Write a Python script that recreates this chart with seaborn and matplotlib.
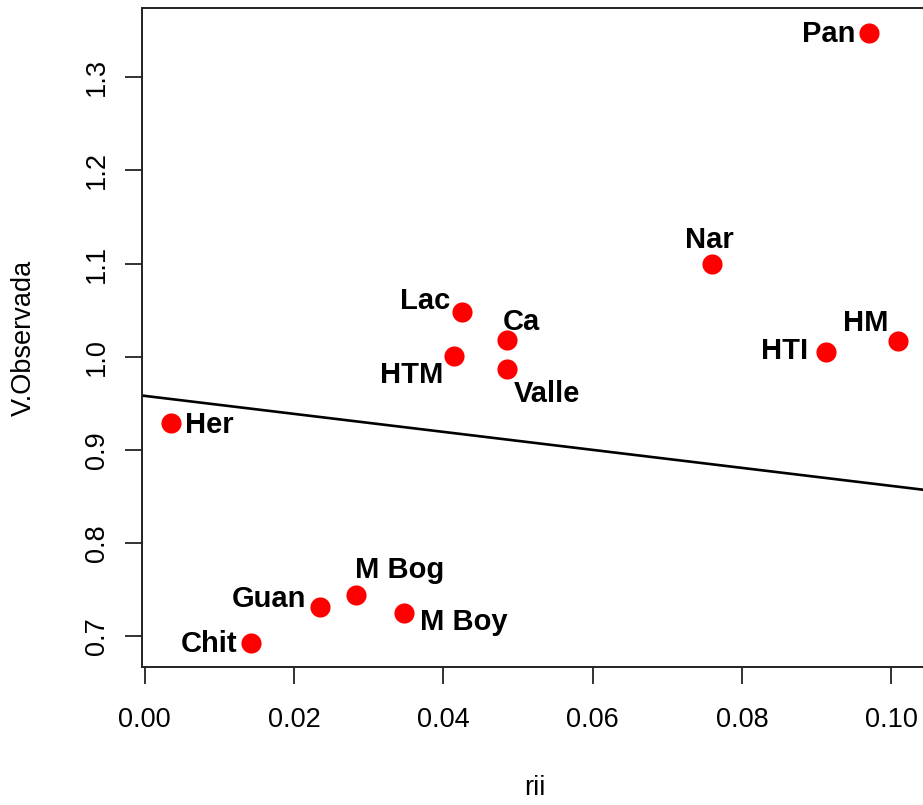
import numpy as np
import pandas as pd
import seaborn as sns
import matplotlib.pyplot as plt
from matplotlib.ticker import FormatStrFormatter

# values
labels = ['Pan', 'Nar', 'HM', 'HTI', 'Lac', 'Ca', 'HTM', 'Valle',
          'Her', 'M Bog', 'Guan', 'M Boy', 'Chit']
rii = [0.0970, 0.0760, 0.1009, 0.0913, 0.0425, 0.0485, 0.0415, 0.0485,
       0.0035, 0.0283, 0.0235, 0.0347, 0.0143]
v_obs = [1.348, 1.100, 1.017, 1.005, 1.048, 1.018, 1.001, 0.987,
         0.929, 0.744, 0.731, 0.725, 0.693]

# reference line drawn over the points
line_intercept = 0.958
line_slope = -0.966

x_ticks = [0.00, 0.02, 0.04, 0.06, 0.08, 0.10]
y_ticks = [0.7, 0.8, 0.9, 1.0, 1.1, 1.2, 1.3]

# label placement: (dx, dy) in pixels, horizontal alignment
label_pos = {
    'Pan': (-13, -9, 'right'), 'Nar': (-3, 16, 'center'), 'HM': (-9, 10, 'right'),
    'HTI': (-18, -7, 'right'), 'Lac': (-12, 3, 'right'), 'Ca': (-4, 10, 'left'),
    'HTM': (-11, -27, 'right'), 'Valle': (7, -33, 'left'), 'Her': (14, -10, 'left'),
    'M Bog': (-1, 17, 'left'), 'Guan': (-14, 0, 'right'), 'M Boy': (16, -17, 'left'),
    'Chit': (-14, -9, 'right'),
}

df = pd.DataFrame({'rii': rii, 'V.Observada': v_obs, 'label': labels})

sns.set_theme(style='white')
plt.rcParams['font.family'] = ['Liberation Sans', 'DejaVu Sans']

fig = plt.figure(figsize=(9.23, 8.05), dpi=100)
ax = fig.add_axes([142 / 923, 1 - 667 / 805, 785 / 923, 659 / 805])

sns.scatterplot(data=df, x='rii', y='V.Observada', color='#ff0000', s=210,
                linewidth=0, ax=ax, zorder=3)
ax.axline((0, line_intercept), slope=line_slope, color='black', lw=1.9, zorder=2)

for _, row in df.iterrows():
    dx, dy, ha = label_pos[row['label']]
    ax.annotate(row['label'], (row['rii'], row['V.Observada']),
                xytext=(dx, dy), textcoords='offset pixels',
                ha=ha, va='baseline', fontsize=21, fontweight='bold', color='black')

ax.set_xlim(-0.000365, 0.1048)
ax.set_ylim(0.667, 1.3743)
ax.set_xticks(x_ticks)
ax.set_yticks(y_ticks)
ax.xaxis.set_major_formatter(FormatStrFormatter('%.2f'))
ax.yaxis.set_major_formatter(FormatStrFormatter('%.1f'))
ax.tick_params(axis='both', direction='out', length=12, width=1.3,
               color='#222222', labelsize=19.5, labelcolor='black')
ax.tick_params(axis='x', pad=17, bottom=True)
ax.tick_params(axis='y', pad=11, left=True)
for lab in ax.get_yticklabels():
    lab.set_rotation(90)
    lab.set_va('center')

for sp in ax.spines.values():
    sp.set_color('#222222')
    sp.set_linewidth(1.4)

ax.set_xlabel('rii', fontsize=19.5, va='center', color='black')
ax.set_ylabel('V.Observada', fontsize=19.5, va='center', color='black')
ax.xaxis.set_label_coords(0.5, (667 - 788) / 659)
ax.yaxis.set_label_coords((24 - 142) / 785, 0.5)

fig.savefig('out.png', dpi=100)
